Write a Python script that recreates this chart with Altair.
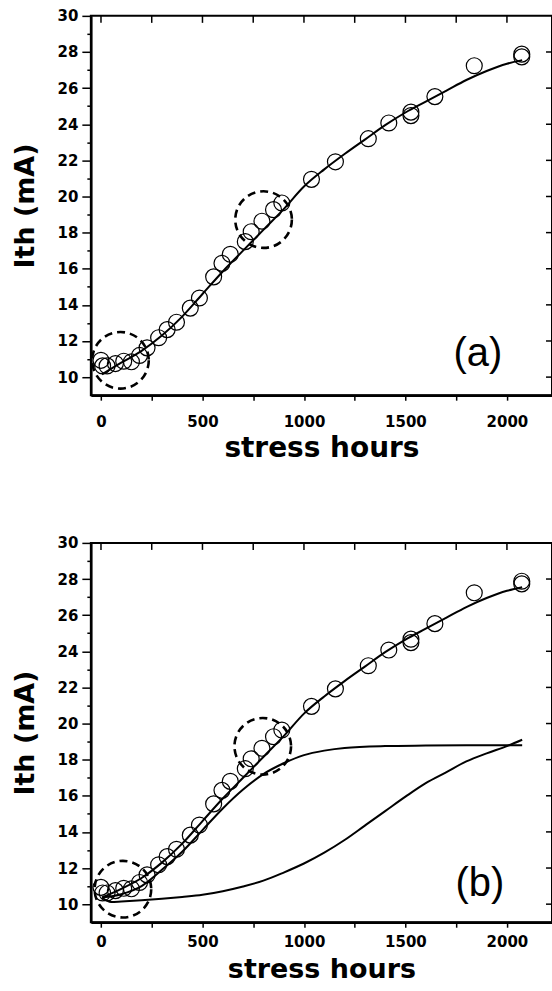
import altair as alt
import pandas as pd

# ---- measured data (stress hours, threshold current in mA) ----
hours = [0, 8, 30, 71, 112, 150, 190, 227, 284, 326, 372, 440, 485, 555, 596,
         637, 711, 740, 793, 850, 891, 1037, 1155, 1317, 1418, 1527, 1527,
         1645, 1839, 2073, 2073]
ith = [10.93, 10.62, 10.62, 10.75, 10.88, 10.85, 11.2, 11.62, 12.18, 12.63,
       13.04, 13.82, 14.38, 15.55, 16.3, 16.8, 17.5, 18.05, 18.63, 19.27,
       19.64, 20.95, 21.92, 23.2, 24.07, 24.67, 24.48, 25.53, 27.24, 27.88,
       27.73]

fit_hours = [5, 100, 200, 300, 400, 500, 600, 700, 800, 900, 1000, 1100,
             1200, 1300, 1400, 1500, 1600, 1700, 1800, 1900, 2000, 2075]
fit_a = [10.15, 10.8, 11.45, 12.3, 13.35, 14.6, 15.85, 17.0, 18.15, 19.3,
         20.55, 21.5, 22.35, 23.15, 23.95, 24.65, 25.25, 25.85, 26.45, 26.95,
         27.35, 27.55]
fit_b = [10.37, 10.85, 11.45, 12.3, 13.35, 14.6, 15.85, 17.0, 18.15, 19.3,
         20.55, 21.5, 22.35, 23.15, 23.95, 24.65, 25.25, 25.85, 26.45, 26.95,
         27.35, 27.55]

comp1_hours = [5, 100, 200, 300, 400, 500, 600, 700, 800, 900, 1000, 1100,
               1200, 1400, 1600, 1800, 2075]
comp1 = [10.37, 10.55, 11.0, 11.9, 12.9, 14.1, 15.3, 16.35, 17.2, 17.8,
         18.25, 18.5, 18.65, 18.75, 18.78, 18.8, 18.8]

comp2_hours = [5, 50, 100, 200, 300, 400, 500, 600, 700, 800, 900, 1000,
               1100, 1200, 1300, 1400, 1500, 1600, 1700, 1800, 1900, 2000, 2075]
comp2 = [10.37, 10.12, 10.15, 10.22, 10.3, 10.4, 10.52, 10.72, 10.98, 11.3,
         11.75, 12.25, 12.85, 13.55, 14.35, 15.15, 15.95, 16.7, 17.3, 17.9,
         18.35, 18.75, 19.1]

ring_a_hours = [96, 801]
ring_a_ith = [10.93, 18.72]
ring_b_hours = [108, 797]
ring_b_ith = [10.83, 18.74]

label_a = {"h": 1857, "I": 10.64, "t": "(a)"}
label_b = {"h": 1867, "I": 10.46, "t": "(b)"}

x_ticks = [0, 250, 500, 750, 1000, 1250, 1500, 1750, 2000]
y_ticks = list(range(10, 31))
y_major = list(range(10, 30, 2))

W, H = 462, 380
XDOM = [-50, 2222]
YDOM = [9, 30]
BOLD = "DejaVu Sans"


def make_x(label_pad, title_pad, title_size):
    return alt.X(
        "h:Q",
        scale=alt.Scale(domain=XDOM, nice=False, zero=False),
        axis=alt.Axis(
            values=x_ticks, format="d",
            labelExpr="datum.value % 500 === 0 ? datum.label : ''",
            tickSize=5, labelPadding=label_pad, title="stress hours",
            titleFont=BOLD, titleFontSize=title_size, titleFontWeight="bold",
            titlePadding=title_pad, labelFont=BOLD, labelFontSize=15,
            labelFontWeight="bold", grid=False, domainWidth=2.5,
            tickWidth=1.5, labelFlush=False,
        ),
    )


y_enc = alt.Y(
    "I:Q",
    scale=alt.Scale(domain=YDOM, nice=False, zero=False),
    axis=alt.Axis(
        values=y_ticks, format="d",
        labelExpr="datum.value % 2 === 0 ? datum.label : ''",
        tickSize={"condition": {"test": "datum.value % 2 === 0", "value": 9},
                  "value": 4},
        labelPadding=4, title="Ith (mA)", titleFont=BOLD,
        titleFontSize=27, titleFontWeight="bold", titlePadding=18,
        labelFont=BOLD, labelFontSize=15, labelFontWeight="bold",
        grid=False, domainWidth=2.5, tickWidth=1.5, labelFlush=False,
    ),
)


def panel(x_enc, fit_vals, extra_lines, ring_h, ring_i, label):
    pts = pd.DataFrame({"h": hours, "I": ith})
    layers = []
    layers.append(
        alt.Chart(pts).mark_point(shape="circle", filled=False, size=255,
                                  color="black", strokeWidth=1.2, opacity=1)
        .encode(x=x_enc, y=y_enc)
    )
    fit_df = pd.DataFrame({"h": fit_hours, "I": fit_vals})
    layers.append(
        alt.Chart(fit_df).mark_line(color="black", strokeWidth=2,
                                    interpolate="monotone")
        .encode(x=x_enc, y=y_enc)
    )
    for hh, vv in extra_lines:
        d = pd.DataFrame({"h": hh, "I": vv})
        layers.append(
            alt.Chart(d).mark_line(color="black", strokeWidth=2,
                                   interpolate="monotone")
            .encode(x=x_enc, y=y_enc)
        )
    rings = pd.DataFrame({"h": ring_h, "I": ring_i})
    layers.append(
        alt.Chart(rings).mark_point(shape="circle", filled=False, size=3217,
                                    color="black", strokeWidth=2.6,
                                    strokeDash=[8, 5], opacity=1)
        .encode(x=x_enc, y=y_enc)
    )
    top_t = pd.DataFrame({"h": x_ticks})
    layers.append(
        alt.Chart(top_t).mark_rule(color="black", strokeWidth=1.5)
        .encode(x=x_enc, y=alt.value(0), y2=alt.value(7))
    )
    right_t = pd.DataFrame({"I": y_major})
    layers.append(
        alt.Chart(right_t).mark_rule(color="black", strokeWidth=1.5)
        .encode(y=y_enc, x=alt.value(W - 6), x2=alt.value(W))
    )
    lab = pd.DataFrame([label])
    layers.append(
        alt.Chart(lab).mark_text(font="Liberation Sans", fontSize=40,
                                 baseline="alphabetic", align="center",
                                 color="black")
        .encode(x=x_enc, y=y_enc, text="t:N")
    )
    return alt.layer(*layers).properties(width=W, height=H)


top = panel(make_x(14, 5, 28), fit_a, [], ring_a_hours, ring_a_ith, label_a)
bottom = panel(make_x(7, 7, 27), fit_b,
               [(comp1_hours, comp1), (comp2_hours, comp2)],
               ring_b_hours, ring_b_ith, label_b)

chart = (
    alt.vconcat(top, bottom, spacing=148, bounds="flush")
    .properties(padding={"left": 10, "top": 7, "right": -2, "bottom": 0},
                background="white")
    .configure_view(stroke="black", strokeWidth=2)
    .configure_axis(domainColor="black", tickColor="black",
                    labelColor="black", titleColor="black")
)

chart.save("out.html", embed_options={"renderer": "svg", "actions": False})
